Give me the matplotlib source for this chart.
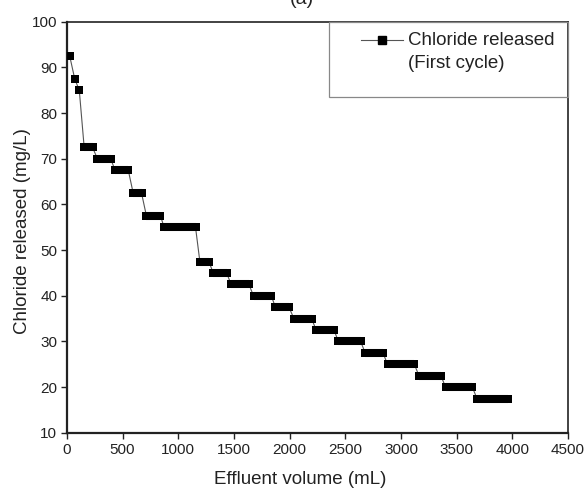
import matplotlib
matplotlib.use("Agg")
import matplotlib.pyplot as plt
from matplotlib.patches import Rectangle

plt.rcParams["font.family"] = ["Liberation Sans", "DejaVu Sans"]

# plateaus of chloride released (first cycle): start/end of each run of points
step_start = [25, 70, 111, 155, 274, 433, 595, 714, 873, 1194, 1314, 1475,
              1676, 1873, 2039, 2239, 2439, 2679, 2880, 3162, 3401, 3683]
step_end   = [25, 70, 111, 230, 392, 551, 670, 840, 1155, 1275, 1434, 1634,
              1835, 1994, 2197, 2398, 2638, 2838, 3120, 3359, 3641, 3962]
level      = [92.5, 87.5, 85, 72.5, 70, 67.5, 62.5, 57.5, 55, 47.5, 45, 42.5,
              40, 37.5, 35, 32.5, 30, 27.5, 25, 22.5, 20, 17.5]

xticks = [0, 500, 1000, 1500, 2000, 2500, 3000, 3500, 4000, 4500]
yticks = [10, 20, 30, 40, 50, 60, 70, 80, 90, 100]

TXT = "#222222"
fig = plt.figure(figsize=(5.87, 4.88), dpi=100)
ax = fig.add_axes([0.114, 0.113, 0.8536, 0.8425])

# thin connecting line through the series
xs, ys = [], []
for s, e, y in zip(step_start, step_end, level):
    xs += [s, e]; ys += [y, y]
ax.plot(xs, ys, color="#555555", lw=0.8, zorder=2)

ms = 5.8
for s, e, y in zip(step_start, step_end, level):
    ax.plot([s, e], [y, y], color="black", lw=ms, solid_capstyle="butt",
            marker="s", ms=ms, mec="black", mew=0, zorder=3)

ax.set_xlim(0, 4500); ax.set_ylim(10, 100)
ax.set_xticks(xticks); ax.set_yticks(yticks)
ax.tick_params(direction="out", length=4.5, width=1.0, colors=TXT,
               labelsize=11, pad=2.5)
for sp in ["left", "bottom"]:
    ax.spines[sp].set_linewidth(1.6)
for sp in ["top", "right"]:
    ax.spines[sp].set_linewidth(1.2)
for sp in ax.spines.values():
    sp.set_color("#222222")
ax.tick_params(axis="both", which="both", top=False, right=False)

ax.set_xlabel("Effluent volume (mL)", fontsize=13.5, color=TXT)
ax.set_ylabel("Chloride released (mg/L)", fontsize=13.5, color=TXT)
ax.xaxis.set_label_coords(0.465, -0.113)
ax.yaxis.set_label_coords(-0.088, 0.49)
ax.xaxis.label.set_va("center")
ax.yaxis.label.set_va("center")

# legend box drawn by hand
ax.add_patch(Rectangle((0.523, 0.8176), 0.477, 0.1824, transform=ax.transAxes,
                       fill=False, ec="#888888", lw=0.9, zorder=4, clip_on=False))
ax.plot([0.587, 0.671], [0.9555, 0.9555], transform=ax.transAxes,
        color="#555555", lw=0.8, zorder=5)
ax.plot([0.629], [0.9555], transform=ax.transAxes, marker="s", ms=5.5,
        color="black", zorder=6)
ax.text(0.681, 0.9555, "Chloride released", transform=ax.transAxes,
        fontsize=13.5, color=TXT, va="center", ha="left")
ax.text(0.681, 0.8995, "(First cycle)", transform=ax.transAxes,
        fontsize=13.5, color=TXT, va="center", ha="left")

fig.text(0.515, 1.0, "(a)", fontsize=14, color=TXT, ha="center", va="center")

fig.savefig("out.png", dpi=100)
